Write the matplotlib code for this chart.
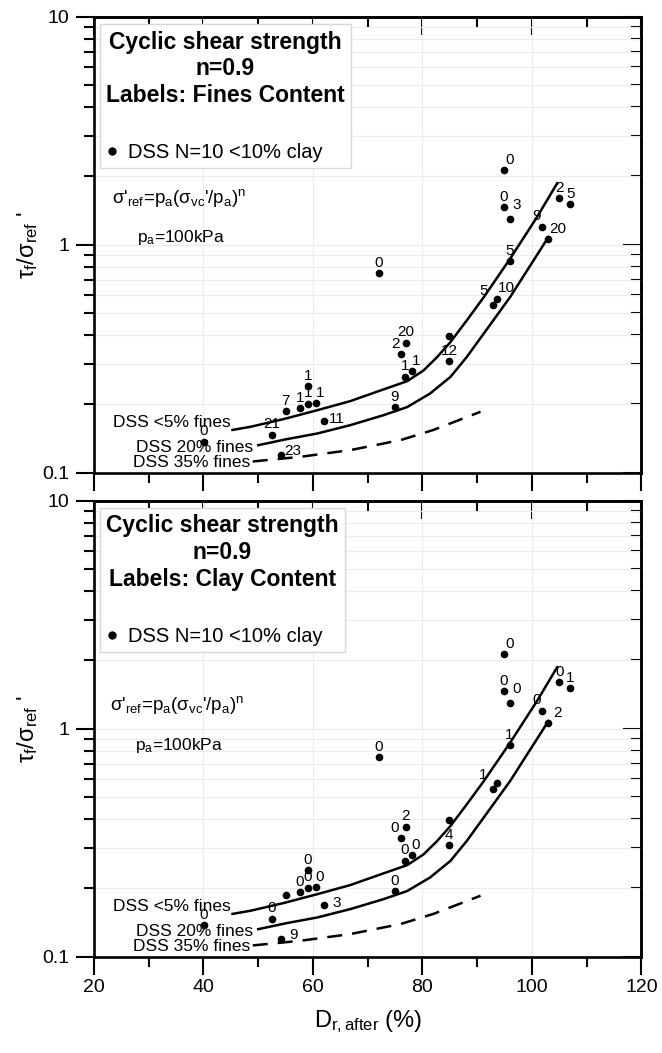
import numpy as np
import matplotlib
matplotlib.use("Agg")
import matplotlib.pyplot as plt
from matplotlib.ticker import MultipleLocator, LogLocator, NullFormatter
from matplotlib.lines import Line2D

plt.rcParams['font.family'] = ['Liberation Sans', 'DejaVu Sans']
plt.rcParams['mathtext.default'] = 'regular'

# measured points: relative density after consolidation vs normalised cyclic strength
dr_after = [40.1, 52.5, 54.1, 55.0, 57.6, 59.1, 60.5, 59.1, 62.0, 72.0, 74.9, 76.8, 78.0, 76.0,
            76.9, 84.9, 84.9, 92.9, 93.6, 95.9, 94.9, 94.9, 95.9, 101.9, 102.9, 105.0, 107.0]
tau_ratio = [0.137, 0.147, 0.120, 0.186, 0.192, 0.201, 0.202, 0.239, 0.168, 0.75, 0.194, 0.264,
             0.279, 0.331, 0.372, 0.397, 0.308, 0.543, 0.580, 0.850, 2.13, 1.46, 1.30, 1.20,
             1.06, 1.60, 1.51]
fines_labels = ['0', '21', '23', '7', '1', '1', '1', '1', '11', '0', '9', '1', '1', '2',
                '20', '', '12', '5', '10', '5', '0', '0', '3', '9', '20', '2', '5']
clay_labels = ['0', '0', '9', '', '0', '0', '0', '0', '3', '0', '0', '0', '0', '0',
               '2', '', '4', '1', '', '1', '0', '0', '0', '0', '2', '0', '1']

# trend curves
fit5_x = [45.3, 48.6, 54.7, 60.8, 66.8, 72.9, 77.2, 80.2, 82.7, 85.1, 88.1, 91.2, 96.0, 100.9, 104.6]
fit5_y = [0.154, 0.159, 0.172, 0.188, 0.206, 0.232, 0.252, 0.281, 0.322, 0.374, 0.466, 0.589,
          0.868, 1.32, 1.86]
fit20_x = [50.0, 55.0, 60.8, 66.8, 72.9, 77.2, 81.4, 85.1, 88.1, 91.2, 96.0, 100.9, 103.0]
fit20_y = [0.132, 0.140, 0.1486, 0.1616, 0.1788, 0.194, 0.2226, 0.263, 0.322, 0.408, 0.589,
           0.90, 1.08]
fit35_x = [49.0, 57.7, 66.8, 76.0, 82.0, 90.6]
fit35_y = [0.112, 0.1174, 0.1256, 0.139, 0.154, 0.185]

# label nudges (points) for a few crowded markers
label_offsets = {2: (9, 0), 8: (9, -1), 6: (3, 4.5), 17: (-7, 7), 18: (7, 4.5), 20: (4, 4.5),
                 22: (5, 7), 23: (-4, 4.5), 24: (7, 4.5), 13: (-4, 4.5), 12: (3, 4.5)}


def style_axes(ax, show_xlabels):
    ax.set_yscale('log')
    ax.set_xlim(20, 120)
    ax.set_ylim(0.1, 10)
    ax.xaxis.set_major_locator(MultipleLocator(20))
    ax.xaxis.set_minor_locator(MultipleLocator(10))
    ax.yaxis.set_minor_locator(LogLocator(base=10, subs=np.arange(2, 10)))
    ax.yaxis.set_minor_formatter(NullFormatter())
    ax.set_yticks([0.1, 1, 10], ['0.1', '1', '10'])
    ax.tick_params(which='major', direction='out', length=13, width=1.5, labelsize=14)
    ax.tick_params(which='minor', direction='out', length=7, width=1.5)
    ax.tick_params(axis='x', pad=3, labelbottom=show_xlabels)
    ax.tick_params(axis='y', pad=5)
    for sp in ax.spines.values():
        sp.set_linewidth(1.9)
    ax.grid(axis='x', which='major', color='#ececec', lw=0.8)
    ax.grid(axis='y', which='both', color='#ececec', lw=0.8)
    ax.set_axisbelow(True)

    top = ax.secondary_xaxis('top')
    top.xaxis.set_major_locator(MultipleLocator(20))
    top.xaxis.set_minor_locator(MultipleLocator(10))
    top.tick_params(which='major', direction='in', length=13, width=1.5, labeltop=False)
    top.tick_params(which='minor', direction='in', length=7, width=1.5)
    top.spines['top'].set_linewidth(1.9)

    right = ax.secondary_yaxis('right')
    right.yaxis.set_major_locator(LogLocator(base=10))
    right.yaxis.set_minor_locator(LogLocator(base=10, subs=np.arange(2, 10)))
    right.tick_params(which='major', direction='in', length=13, width=1.5, labelright=False)
    right.tick_params(which='minor', direction='in', length=7, width=1.5, labelright=False)
    right.spines['right'].set_linewidth(1.9)


def draw_panel(ax, labels, title, formula_pos, pa_pos, show_xlabels):
    style_axes(ax, show_xlabels)
    ax.plot(fit5_x, fit5_y, color='black', lw=1.8)
    ax.plot(fit20_x, fit20_y, color='black', lw=1.8)
    ax.plot(fit35_x, fit35_y, color='black', lw=1.8, dashes=(6, 4))
    ax.plot(dr_after, tau_ratio, 'o', color='black', ms=4.5, zorder=4)

    for i, (x, y, lab) in enumerate(zip(dr_after, tau_ratio, labels)):
        if not lab:
            continue
        dx, dy = label_offsets.get(i, (0, 4.5))
        ax.annotate(lab, (x, y), xytext=(dx, dy), textcoords='offset points',
                    ha='center', va='baseline', fontsize=11)

    ax.annotate('DSS <5% fines', (fit5_x[0], fit5_y[0]), xytext=(-1, 5),
                textcoords='offset points', ha='right', va='center', fontsize=12.5)
    ax.annotate('DSS 20% fines', (fit20_x[0], fit20_y[0]), xytext=(-4, -2),
                textcoords='offset points', ha='right', va='center', fontsize=12.5)
    ax.annotate('DSS 35% fines', (fit35_x[0], fit35_y[0]), xytext=(-2, -1),
                textcoords='offset points', ha='right', va='center', fontsize=12.5)

    ax.text(*formula_pos, r"σ'$_{ref}$=p$_a$(σ$_{vc}$'/p$_a$)$^n$",
            transform=ax.transAxes, ha='left', va='center', fontsize=13.5)
    ax.text(*pa_pos, r"p$_a$=100kPa",
            transform=ax.transAxes, ha='left', va='center', fontsize=12.5)

    handle = Line2D([], [], ls='none', marker='o', color='black', ms=5)
    leg = ax.legend([handle], ['DSS N=10 <10% clay'], loc='upper left',
                    bbox_to_anchor=(0.011, 0.983), borderaxespad=0, fontsize=14.5,
                    title=title + '\n', title_fontproperties={'weight': 'bold', 'size': 16.5},
                    frameon=True, fancybox=False, edgecolor='#d8d8d8', framealpha=1,
                    handlelength=0.6, handletextpad=0.5, borderpad=0.3, alignment='left')
    leg.get_title().set_multialignment('center')
    leg.get_frame().set_linewidth(1.0)
    leg.set_zorder(5)

    ax.set_ylabel(r"$\mathregular{τ_f/σ_{ref}}$ '", fontsize=17, labelpad=1)


fig = plt.figure(figsize=(6.62, 10.53), dpi=100)
ax_top = fig.add_axes([0.142, 0.5511, 0.827, 0.4330])
ax_bot = fig.add_axes([0.142, 0.0915, 0.827, 0.4330])

draw_panel(ax_top, fines_labels, 'Cyclic shear strength\nn=0.9\nLabels: Fines Content',
           (0.033, 0.602), (0.078, 0.515), False)
draw_panel(ax_bot, clay_labels, 'Cyclic shear strength\nn=0.9\nLabels: Clay Content',
           (0.029, 0.552), (0.075, 0.464), True)

ax_bot.set_xlabel(r"$\mathregular{D_{r,after}}$ (%)", fontsize=17, labelpad=9)

fig.savefig('out.png', dpi=100)
